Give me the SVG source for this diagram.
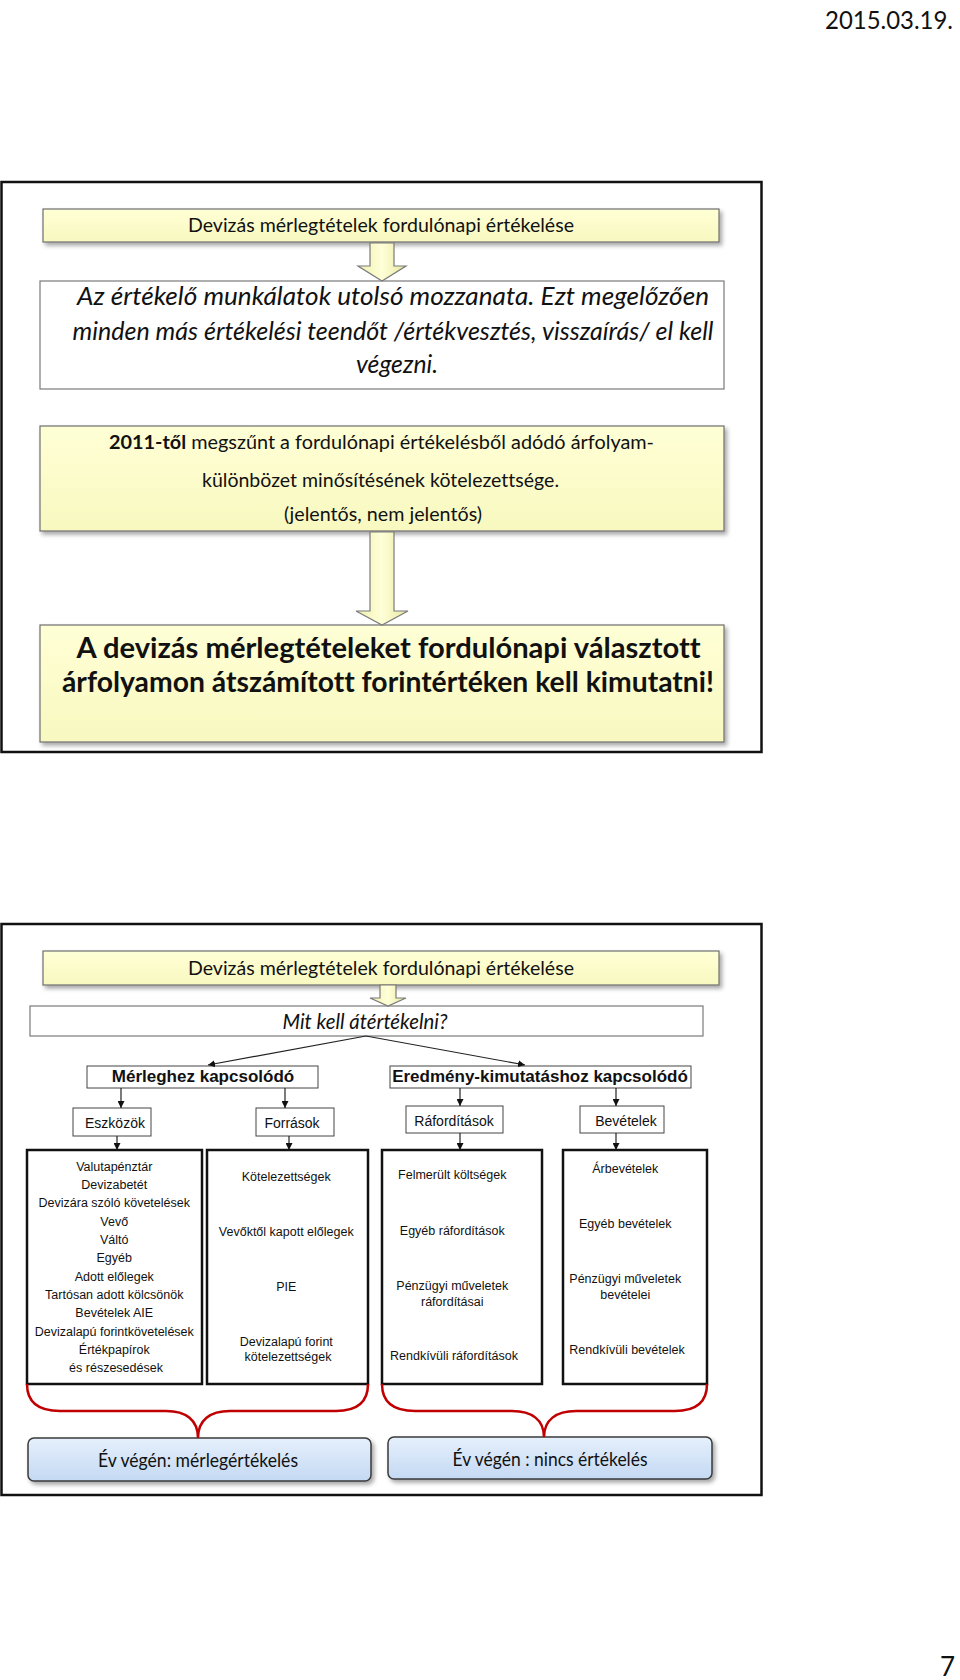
<svg xmlns="http://www.w3.org/2000/svg" width="960" height="1680" viewBox="0 0 960 1680">
<defs>
<style>
.cal{font-family:Lato,"Open Sans","Liberation Sans",sans-serif;fill:#111;font-variant-ligatures:none}
.ar{font-family:"Liberation Sans",Arial,sans-serif;fill:#111}
.frame{fill:#fff;stroke:#111;stroke-width:2.5}
.ybox{fill:url(#yg);stroke:#6e6e6e;stroke-width:1.2}
.wbox{fill:#fff;stroke:#7a7a7a;stroke-width:1.2}
.sbox{fill:#fff;stroke:#444;stroke-width:1}
.tbox{fill:#fff;stroke:#111;stroke-width:2.5}
.bbox{fill:url(#bg);stroke:#3a3a3a;stroke-width:1.5}
.blk{fill:url(#ag);stroke:#7a7a7a;stroke-width:1.2}
.ln{fill:none;stroke:#222;stroke-width:1.2;marker-end:url(#ah)}
.brace{fill:none;stroke:#c00000;stroke-width:2.5}
</style>
<linearGradient id="yg" x1="0" y1="0" x2="0" y2="1"><stop offset="0" stop-color="#ffffd6"/><stop offset="1" stop-color="#f8f8c0"/></linearGradient>
<linearGradient id="ag" x1="0" y1="0" x2="1" y2="0"><stop offset="0" stop-color="#f0f0b0"/><stop offset="0.5" stop-color="#ffffd8"/><stop offset="1" stop-color="#e6e6a0"/></linearGradient>
<linearGradient id="bg" x1="0" y1="0" x2="0" y2="1"><stop offset="0" stop-color="#e6f0fc"/><stop offset="1" stop-color="#c4d9f3"/></linearGradient>
<filter id="sh" x="-5%" y="-20%" width="110%" height="150%"><feDropShadow dx="2.5" dy="3" stdDeviation="2" flood-color="#000" flood-opacity="0.35"/></filter>
<marker id="ah" viewBox="0 0 10 10" refX="10" refY="5" markerWidth="7" markerHeight="7" markerUnits="userSpaceOnUse" orient="auto"><path d="M0,0 L10,5 L0,10 z" fill="#111"/></marker>
</defs>
<rect x="0" y="0" width="960" height="1680" fill="#fff"/>
<text class="cal" x="953" y="29" font-size="25" text-anchor="end" textLength="128" lengthAdjust="spacingAndGlyphs">2015.03.19.</text>
<text class="cal" x="955" y="1676" font-size="26" text-anchor="end">7</text>

<!-- top slide -->
<g id="slide1">
<rect class="frame" x="1.5" y="182" width="760" height="570"/>
</g>
<g id="n-title1">
<rect class="ybox" x="43" y="209" width="676" height="33" filter="url(#sh)"/>
<text class="cal" x="381" y="232" font-size="20" text-anchor="middle" textLength="386" lengthAdjust="spacingAndGlyphs">Devizás mérlegtételek fordulónapi értékelése</text>
</g>
<g id="n-intro">
<rect class="wbox" x="40" y="281" width="684" height="108"/>
<text class="cal" font-style="italic" font-size="25.5" text-anchor="middle">
<tspan x="396" y="305" textLength="632" lengthAdjust="spacingAndGlyphs">Az értékelő munkálatok utolsó mozzanata. Ezt megelőzően</tspan>
<tspan x="396" y="340" textLength="641" lengthAdjust="spacingAndGlyphs">minden más értékelési teendőt /értékvesztés, visszaírás/ el kell</tspan>
<tspan x="397" y="373" textLength="82" lengthAdjust="spacingAndGlyphs">végezni.</tspan>
</text>
</g>
<g id="n-2011">
<rect class="ybox" x="40" y="426" width="684" height="105" filter="url(#sh)"/>
<text class="cal" font-size="19.5" text-anchor="middle">
<tspan x="384" y="449" textLength="545" lengthAdjust="spacingAndGlyphs"><tspan font-weight="bold">2011-től</tspan> megszűnt a fordulónapi értékelésből adódó árfolyam-</tspan>
<tspan x="383" y="487" textLength="357" lengthAdjust="spacingAndGlyphs">különbözet minősítésének kötelezettsége.</tspan>
<tspan x="383" y="521" textLength="198" lengthAdjust="spacingAndGlyphs">(jelentős, nem jelentős)</tspan>
</text>
</g>
<g id="n-result">
<rect class="ybox" x="40" y="625" width="684" height="117" filter="url(#sh)"/>
<text class="cal" font-size="28" font-weight="bold" text-anchor="middle">
<tspan x="392" y="658" textLength="624" lengthAdjust="spacingAndGlyphs">A devizás mérlegtételeket fordulónapi választott</tspan>
<tspan x="388" y="692" textLength="652" lengthAdjust="spacingAndGlyphs">árfolyamon átszámított forintértéken kell kimutatni!</tspan>
</text>
</g>

<!-- bottom slide -->
<g id="slide2">
<rect class="frame" x="1.5" y="924" width="760" height="571"/>
</g>
<g id="n-title2">
<rect class="ybox" x="43" y="951" width="676" height="34" filter="url(#sh)"/>
<text class="cal" x="381" y="975" font-size="20" text-anchor="middle" textLength="386" lengthAdjust="spacingAndGlyphs">Devizás mérlegtételek fordulónapi értékelése</text>
</g>
<g id="n-mit">
<rect class="wbox" x="30" y="1006" width="673" height="30"/>
<text class="cal" x="365" y="1029" font-size="20.5" font-style="italic" text-anchor="middle" textLength="165" lengthAdjust="spacingAndGlyphs">Mit kell átértékelni?</text>
</g>
<g id="n-merleg">
<rect class="sbox" x="87" y="1066" width="231" height="22"/>
<text class="ar" x="203" y="1082" font-size="17" font-weight="bold" text-anchor="middle">Mérleghez kapcsolódó</text>
</g>
<g id="n-eredmeny">
<rect class="sbox" x="390" y="1066" width="301" height="22"/>
<text class="ar" x="540" y="1082" font-size="17" font-weight="bold" text-anchor="middle">Eredmény-kimutatáshoz kapcsolódó</text>
</g>
<g id="n-eszkozok">
<rect class="sbox" x="73" y="1108" width="78" height="28"/>
<text class="ar" x="115" y="1128" font-size="14" text-anchor="middle">Eszközök</text>
</g>
<g id="n-forrasok">
<rect class="sbox" x="256" y="1108" width="78" height="28"/>
<text class="ar" x="292" y="1128" font-size="14" text-anchor="middle">Források</text>
</g>
<g id="n-raford">
<rect class="sbox" x="406" y="1106" width="97" height="27"/>
<text class="ar" x="454" y="1126" font-size="14" text-anchor="middle">Ráfordítások</text>
</g>
<g id="n-bevetelek">
<rect class="sbox" x="580" y="1106" width="84" height="27"/>
<text class="ar" x="626" y="1126" font-size="14" text-anchor="middle">Bevételek</text>
</g>
<g id="n-list-eszk">
<rect class="tbox" x="27" y="1150" width="175" height="234"/>
<text class="ar" font-size="12.5" text-anchor="middle">
<tspan x="116" y="1170.5">Valutapénztár</tspan>
<tspan x="116" y="1188.8">Devizabetét</tspan>
<tspan x="116" y="1207.2">Devizára szóló követelések</tspan>
<tspan x="116" y="1225.5">Vevő</tspan>
<tspan x="116" y="1243.8">Váltó</tspan>
<tspan x="116" y="1262.2">Egyéb</tspan>
<tspan x="116" y="1280.5">Adott előlegek</tspan>
<tspan x="116" y="1298.8">Tartósan adott kölcsönök</tspan>
<tspan x="116" y="1317.2">Bevételek AIE</tspan>
<tspan x="116" y="1335.5">Devizalapú forintkövetelések</tspan>
<tspan x="116" y="1353.8">Értékpapírok</tspan>
<tspan x="116" y="1372.2">és részesedések</tspan>
</text>
</g>
<g id="n-list-forr">
<rect class="tbox" x="207" y="1150" width="161" height="234"/>
<text class="ar" font-size="12.5" text-anchor="middle">
<tspan x="288" y="1181">Kötelezettségek</tspan>
<tspan x="288" y="1236">Vevőktől kapott előlegek</tspan>
<tspan x="288" y="1291">PIE</tspan>
<tspan x="288" y="1346">Devizalapú forint</tspan>
<tspan x="288" y="1361">kötelezettségek</tspan>
</text>
</g>
<g id="n-list-raf">
<rect class="tbox" x="382" y="1150" width="160" height="234"/>
<text class="ar" font-size="12.5" text-anchor="middle">
<tspan x="454" y="1179">Felmerült költségek</tspan>
<tspan x="454" y="1235">Egyéb ráfordítások</tspan>
<tspan x="454" y="1290">Pénzügyi műveletek</tspan>
<tspan x="454" y="1306">ráfordításai</tspan>
<tspan x="454" y="1360">Rendkívüli ráfordítások</tspan>
</text>
</g>
<g id="n-list-bev">
<rect class="tbox" x="563" y="1150" width="144" height="234"/>
<text class="ar" font-size="12.5" text-anchor="middle">
<tspan x="627" y="1173">Árbevételek</tspan>
<tspan x="627" y="1228">Egyéb bevételek</tspan>
<tspan x="627" y="1283">Pénzügyi műveletek</tspan>
<tspan x="627" y="1299">bevételei</tspan>
<tspan x="627" y="1354">Rendkívüli bevételek</tspan>
</text>
</g>
<g id="n-ev1">
<rect class="bbox" x="28" y="1438" width="343" height="43" rx="6" filter="url(#sh)"/>
<text class="cal" x="198" y="1467" font-size="20" text-anchor="middle" textLength="200" lengthAdjust="spacingAndGlyphs">Év végén: mérlegértékelés</text>
</g>
<g id="n-ev2">
<rect class="bbox" x="388" y="1437" width="324" height="42" rx="6" filter="url(#sh)"/>
<text class="cal" x="550" y="1466" font-size="20" text-anchor="middle" textLength="195" lengthAdjust="spacingAndGlyphs">Év végén : nincs értékelés</text>
</g>

<g id="connectors">
<path class="blk" d="M370,243 L394,243 L394,266 L406,266 L382,281 L358,266 L370,266 Z"/>
<path class="blk" d="M370,532 L394,532 L394,611 L408,611 L382,625 L356,611 L370,611 Z"/>
<path class="blk" d="M380,985 L396,985 L396,998 L406,998 L388,1006 L370,998 L380,998 Z"/>
<path class="ln" d="M366,1036 L208,1065"/>
<path class="ln" d="M366,1036 L525,1065"/>
<path class="ln" d="M121,1088 L121,1108"/>
<path class="ln" d="M285,1088 L285,1108"/>
<path class="ln" d="M460,1088 L460,1106"/>
<path class="ln" d="M616,1088 L616,1106"/>
<path class="ln" d="M117,1136 L117,1150"/>
<path class="ln" d="M289,1136 L289,1150"/>
<path class="ln" d="M460,1133 L460,1150"/>
<path class="ln" d="M616,1133 L616,1150"/>
<path class="brace" d="M27,1384 C27,1402 38,1411 60,1411 L166,1411 C186,1411 198,1420 198,1438 C198,1420 210,1411 230,1411 L336,1411 C358,1411 368,1402 368,1384"/>
<path class="brace" d="M382,1384 C382,1402 393,1411 415,1411 L512,1411 C532,1411 544,1420 544,1437 C544,1420 556,1411 576,1411 L675,1411 C697,1411 707,1402 707,1384"/>
</g>
</svg>
